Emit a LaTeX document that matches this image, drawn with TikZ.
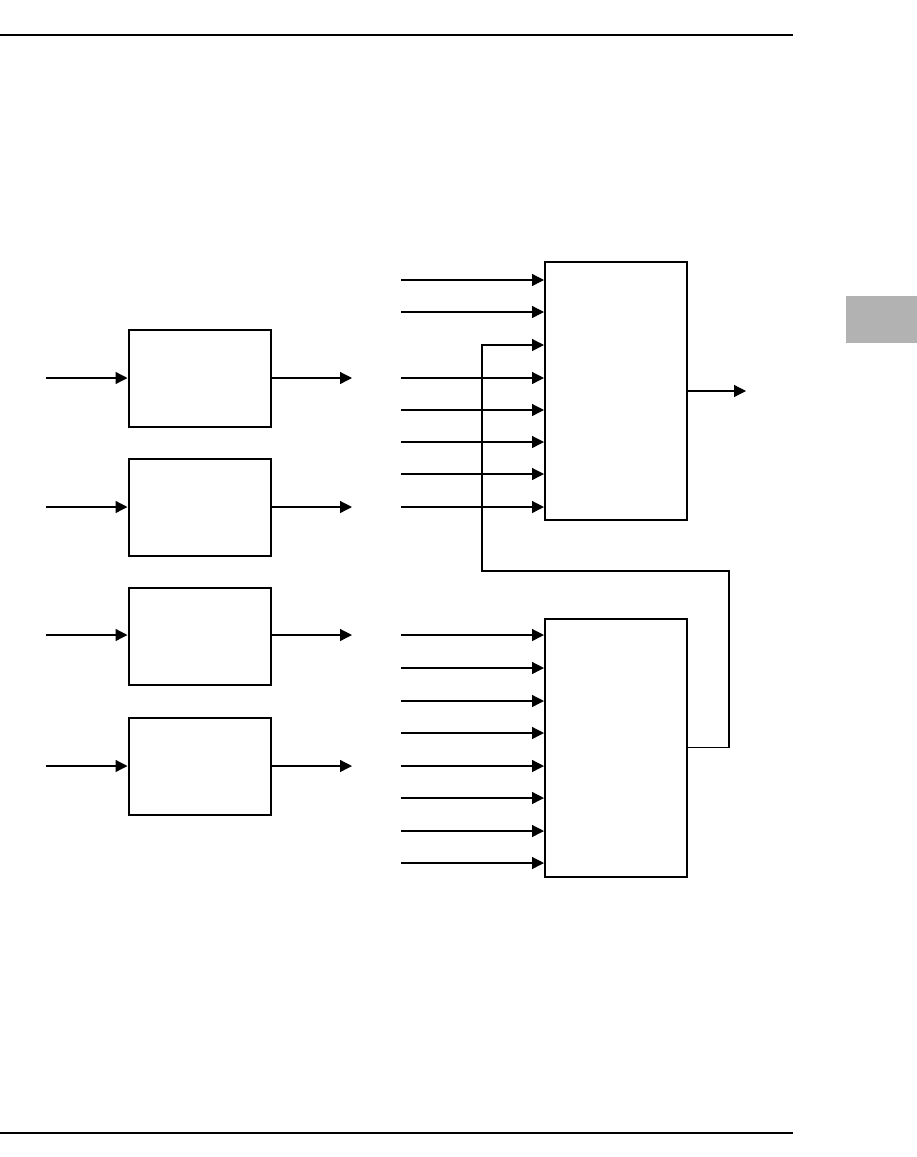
\documentclass[tikz,border=0pt]{standalone}
\usetikzlibrary{arrows.meta}

\begin{document}
\begin{tikzpicture}[x=1pt, y=-1pt, >={Triangle[length=12pt, width=12pt]},
      block/.style={draw=black, line width=2pt, minimum width=142pt,
                    minimum height=97pt, inner sep=0pt},
      bigblock/.style={draw=black, line width=2pt, minimum width=142pt,
                       minimum height=258pt, inner sep=0pt},
      wire/.style={->, line width=1.3pt},
      rule/.style={line width=1.3pt},
    ]
    \useasboundingbox (0,0) rectangle (917,1157);

    % Page rules and side tab
    \coordinate (topl) at (0,35);    \coordinate (topr) at (793,35);
    \coordinate (botl) at (0,1133);  \coordinate (botr) at (793,1133);
    \draw[rule] (topl) -- (topr);
    \draw[rule] (botl) -- (botr);
    \fill[black!30] (846,296) rectangle (917,343);

    % Left: four blocks
    \node[block] (b1) at (199.5,378) {};
    \node[block] (b2) at (199.5,507.5) {};
    \node[block] (b3) at (199.5,636.5) {};
    \node[block] (b4) at (199.5,766) {};

    \coordinate (i1) at (46,378);  \coordinate (o1) at (352,378);
    \coordinate (i2) at (46,507);  \coordinate (o2) at (352,507);
    \coordinate (i3) at (46,635);  \coordinate (o3) at (352,635);
    \coordinate (i4) at (46,766);  \coordinate (o4) at (352,766);

    \draw[wire] (i1) -- (i1 -| b1.west);
    \draw[wire] (i2) -- (i2 -| b2.west);
    \draw[wire] (i3) -- (i3 -| b3.west);
    \draw[wire] (i4) -- (i4 -| b4.west);
    \draw[wire] (o1 -| b1.east) -- (o1);
    \draw[wire] (o2 -| b2.east) -- (o2);
    \draw[wire] (o3 -| b3.east) -- (o3);
    \draw[wire] (o4 -| b4.east) -- (o4);

    % Right: two wide blocks
    \node[bigblock] (mux) at (616,391) {};
    \node[bigblock] (sub) at (616,747.5) {};

    % Inputs of the upper block (third one is the feedback)
    \coordinate (a1) at (401,280);  \coordinate (a2) at (401,312);
    \coordinate (a4) at (401,378);  \coordinate (a5) at (401,410);
    \coordinate (a6) at (401,442);  \coordinate (a7) at (401,474);
    \coordinate (a8) at (401,507);
    \draw[wire] (a1) -- (a1 -| mux.west);
    \draw[wire] (a2) -- (a2 -| mux.west);
    \draw[wire] (a4) -- (a4 -| mux.west);
    \draw[wire] (a5) -- (a5 -| mux.west);
    \draw[wire] (a6) -- (a6 -| mux.west);
    \draw[wire] (a7) -- (a7 -| mux.west);
    \draw[wire] (a8) -- (a8 -| mux.west);

    % Inputs of the lower block
    \coordinate (c1) at (401,635);  \coordinate (c2) at (401,668);
    \coordinate (c3) at (401,701);  \coordinate (c4) at (401,733);
    \coordinate (c5) at (401,766);  \coordinate (c6) at (401,798);
    \coordinate (c7) at (401,831);  \coordinate (c8) at (401,863);
    \draw[wire] (c1) -- (c1 -| sub.west);
    \draw[wire] (c2) -- (c2 -| sub.west);
    \draw[wire] (c3) -- (c3 -| sub.west);
    \draw[wire] (c4) -- (c4 -| sub.west);
    \draw[wire] (c5) -- (c5 -| sub.west);
    \draw[wire] (c6) -- (c6 -| sub.west);
    \draw[wire] (c7) -- (c7 -| sub.west);
    \draw[wire] (c8) -- (c8 -| sub.west);

    % Output of the upper block
    \coordinate (out) at (746,391);
    \draw[wire] (mux.east) -- (out);

    % Feedback from lower block into the upper block
    \coordinate (fbr) at (729,571);
    \coordinate (fbl) at (482,345);
    \draw[wire] (sub.east) -| (fbr) -| (fbl) -- (fbl -| mux.west);

  \end{tikzpicture}
\end{document}
